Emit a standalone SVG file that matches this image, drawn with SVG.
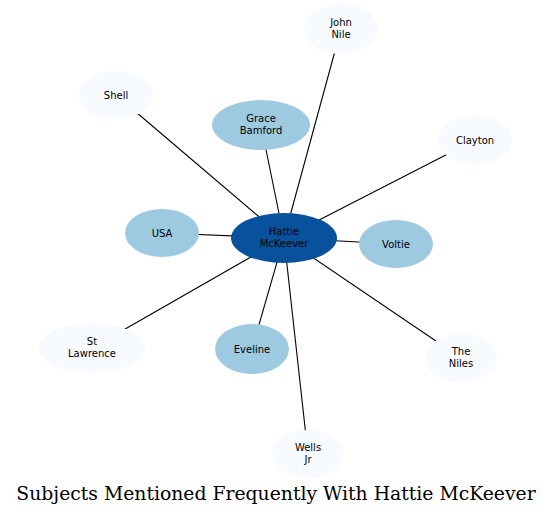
<svg xmlns="http://www.w3.org/2000/svg" width="552" height="516" viewBox="0 0 552 516">
<style>
.e{stroke:#000;stroke-width:1.1;fill:none}
.n text{font-family:"DejaVu Sans",sans-serif;font-size:10px;text-anchor:middle;fill:#000}
.l{fill:#f7fbff}
.m{fill:#9ecae1}
.h{fill:#08519c}
.t{font-family:"DejaVu Serif",serif;font-size:18.8px;text-anchor:middle;fill:#000}
</style>
<rect width="552" height="516" fill="#fff"/>
<g id="edges">
<line class="e" x1="284" y1="238" x2="341" y2="29"/>
<line class="e" x1="284" y1="238" x2="116" y2="95"/>
<line class="e" x1="284" y1="238" x2="261" y2="125"/>
<line class="e" x1="284" y1="238" x2="475" y2="140"/>
<line class="e" x1="284" y1="238" x2="162" y2="233"/>
<line class="e" x1="284" y1="238" x2="396" y2="244"/>
<line class="e" x1="284" y1="238" x2="92" y2="348"/>
<line class="e" x1="284" y1="238" x2="252" y2="349"/>
<line class="e" x1="284" y1="238" x2="461" y2="358"/>
<line class="e" x1="284" y1="238" x2="308" y2="454"/>
</g>
<g id="john-nile" class="n"><ellipse class="l" cx="341" cy="29" rx="37" ry="25"/><text x="341" y="26">John</text><text x="341" y="38">Nile</text></g>
<g id="shell" class="n"><ellipse class="l" cx="116" cy="95" rx="37" ry="24"/><text x="116" y="99">Shell</text></g>
<g id="grace-bamford" class="n"><ellipse class="m" cx="261" cy="125" rx="49" ry="25"/><text x="261" y="122">Grace</text><text x="261" y="134">Bamford</text></g>
<g id="clayton" class="n"><ellipse class="l" cx="475" cy="140" rx="37" ry="24"/><text x="475" y="144">Clayton</text></g>
<g id="usa" class="n"><ellipse class="m" cx="162" cy="233" rx="37" ry="24"/><text x="162" y="237">USA</text></g>
<g id="voltie" class="n"><ellipse class="m" cx="396" cy="244" rx="37" ry="24"/><text x="396" y="248">Voltie</text></g>
<g id="hattie-mckeever" class="n"><ellipse class="h" cx="284" cy="238" rx="53" ry="25"/><text x="284" y="235">Hattie</text><text x="284" y="247">McKeever</text></g>
<g id="st-lawrence" class="n"><ellipse class="l" cx="92" cy="348" rx="53" ry="25"/><text x="92" y="345">St</text><text x="92" y="357">Lawrence</text></g>
<g id="eveline" class="n"><ellipse class="m" cx="252" cy="349" rx="37" ry="25"/><text x="252" y="353">Eveline</text></g>
<g id="the-niles" class="n"><ellipse class="l" cx="461" cy="358" rx="36" ry="24"/><text x="461" y="355">The</text><text x="461" y="367">Niles</text></g>
<g id="wells-jr" class="n"><ellipse class="l" cx="308" cy="454" rx="36" ry="24"/><text x="308" y="451">Wells</text><text x="308" y="463">Jr</text></g>
<text class="t" x="276" y="500">Subjects Mentioned Frequently With Hattie McKeever</text>
</svg>
